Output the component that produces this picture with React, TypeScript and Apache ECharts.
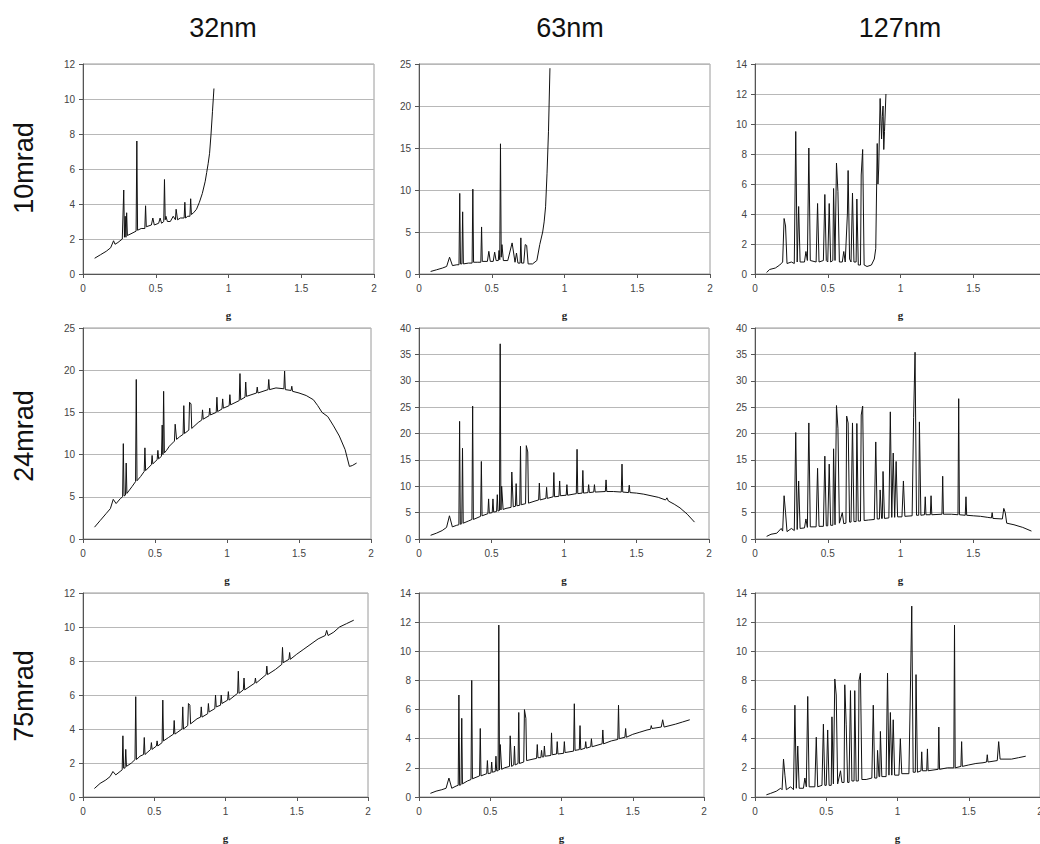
import { useEffect, useRef } from "react";
import * as echarts from "echarts";

const sizes = ["32nm", "63nm", "127nm"];
const angles = ["10mrad", "24mrad", "75mrad"];
const xLabel = "g";
const yMaxes = [12, 25, 14, 25, 40, 40, 12, 14, 14];
const yIntervals = [2, 5, 2, 5, 5, 5, 2, 2, 2];

// 32nm, 10mrad
const p1 = [[0.08,0.9],[0.12,1.1],[0.16,1.3],[0.19,1.5],[0.21,1.9],[0.22,1.7],[0.24,1.8],[0.27,2.0],[0.28,4.8],[0.285,2.1],[0.29,3.3],[0.295,2.1],[0.30,3.5],[0.305,2.2],[0.33,2.3],[0.365,2.45],[0.37,7.6],[0.375,2.5],[0.40,2.6],[0.425,2.6],[0.43,3.9],[0.435,2.7],[0.47,2.8],[0.48,3.2],[0.49,2.8],[0.52,2.9],[0.53,3.2],[0.54,2.9],[0.555,3.0],[0.56,5.4],[0.565,3.1],[0.57,3.3],[0.58,3.0],[0.60,3.0],[0.62,3.3],[0.635,3.1],[0.64,3.7],[0.65,3.1],[0.67,3.2],[0.695,3.2],[0.70,4.1],[0.705,3.2],[0.72,3.3],[0.735,3.3],[0.74,4.3],[0.745,3.4],[0.76,3.5],[0.78,3.7],[0.80,4.1],[0.82,4.6],[0.84,5.3],[0.85,5.8],[0.86,6.3],[0.87,6.9],[0.88,8.0],[0.89,9.3],[0.90,10.6]];
// 63nm, 10mrad
const p2 = [[0.08,0.3],[0.12,0.5],[0.16,0.7],[0.19,0.9],[0.21,2.0],[0.23,1.0],[0.26,1.1],[0.275,1.1],[0.28,9.6],[0.285,1.2],[0.295,1.2],[0.30,7.4],[0.305,1.2],[0.34,1.3],[0.365,1.3],[0.37,10.1],[0.375,1.4],[0.40,1.4],[0.425,1.4],[0.43,5.6],[0.435,1.5],[0.47,1.5],[0.48,2.7],[0.49,1.5],[0.51,1.5],[0.52,2.6],[0.53,1.6],[0.545,1.6],[0.55,2.8],[0.555,1.7],[0.56,15.5],[0.565,2.0],[0.57,3.5],[0.58,1.6],[0.61,1.6],[0.64,3.7],[0.66,1.4],[0.67,2.5],[0.68,1.3],[0.695,1.3],[0.70,4.3],[0.705,1.3],[0.72,1.3],[0.73,3.5],[0.74,3.4],[0.75,1.2],[0.78,1.2],[0.81,1.6],[0.83,3.5],[0.85,5.0],[0.86,6.2],[0.87,8.0],[0.88,12.0],[0.89,17.0],[0.90,24.5]];
// 127nm, 10mrad
const p3 = [[0.08,0.1],[0.10,0.3],[0.14,0.4],[0.17,0.6],[0.19,0.8],[0.20,3.7],[0.21,3.2],[0.22,0.7],[0.25,0.8],[0.27,0.7],[0.28,9.5],[0.29,0.8],[0.30,4.5],[0.31,0.8],[0.34,0.8],[0.35,1.5],[0.36,0.9],[0.37,8.4],[0.38,0.9],[0.42,0.8],[0.43,4.7],[0.44,0.8],[0.47,0.9],[0.48,5.3],[0.49,0.9],[0.50,0.8],[0.51,4.7],[0.52,0.8],[0.535,0.9],[0.54,5.7],[0.55,0.9],[0.56,7.4],[0.57,5.5],[0.58,0.8],[0.60,0.8],[0.61,1.5],[0.62,0.8],[0.635,4.0],[0.64,6.9],[0.65,1.0],[0.66,0.8],[0.67,5.4],[0.68,0.8],[0.695,0.8],[0.70,5.0],[0.71,0.6],[0.725,0.6],[0.73,6.6],[0.74,8.3],[0.75,0.6],[0.77,0.5],[0.80,0.6],[0.82,1.0],[0.83,1.7],[0.84,8.7],[0.845,6.0],[0.85,7.0],[0.86,11.7],[0.87,9.0],[0.875,10.5],[0.88,11.2],[0.885,8.3],[0.89,9.5],[0.90,12.0]];
// 32nm, 24mrad
const p4 = [[0.08,1.4],[0.12,2.2],[0.16,3.0],[0.19,3.6],[0.21,4.7],[0.23,4.2],[0.26,4.8],[0.275,5.0],[0.28,11.3],[0.285,5.1],[0.295,5.2],[0.30,9.0],[0.305,5.4],[0.34,6.2],[0.365,6.8],[0.37,18.9],[0.375,6.9],[0.40,7.4],[0.425,8.0],[0.43,10.8],[0.435,8.1],[0.475,8.8],[0.48,9.9],[0.485,8.9],[0.515,9.4],[0.52,10.5],[0.525,9.5],[0.545,9.8],[0.55,13.5],[0.555,10.0],[0.56,17.5],[0.565,10.2],[0.58,10.5],[0.60,11.0],[0.635,11.6],[0.64,13.6],[0.65,11.8],[0.67,12.1],[0.695,12.4],[0.70,15.8],[0.705,12.5],[0.735,12.9],[0.74,16.2],[0.75,16.0],[0.755,13.1],[0.80,13.8],[0.825,14.1],[0.83,15.3],[0.835,14.2],[0.875,14.6],[0.88,15.5],[0.885,14.7],[0.925,15.0],[0.93,16.8],[0.935,15.1],[0.965,15.4],[0.97,16.6],[0.975,15.5],[1.015,15.8],[1.02,17.1],[1.025,15.9],[1.085,16.4],[1.09,19.6],[1.095,16.5],[1.125,16.8],[1.13,18.6],[1.135,16.9],[1.205,17.3],[1.21,18.0],[1.215,17.3],[1.285,17.7],[1.29,18.9],[1.295,17.7],[1.34,17.9],[1.395,17.8],[1.40,19.9],[1.405,17.7],[1.445,17.6],[1.45,18.1],[1.455,17.5],[1.50,17.3],[1.55,17.0],[1.60,16.5],[1.63,15.8],[1.66,15.0],[1.70,14.5],[1.74,13.4],[1.78,12.2],[1.82,10.6],[1.85,8.6],[1.87,8.7],[1.90,9.0]];
// 63nm, 24mrad
const p5 = [[0.08,0.7],[0.12,1.1],[0.16,1.6],[0.19,2.2],[0.21,4.4],[0.23,2.3],[0.26,2.6],[0.275,2.7],[0.28,22.3],[0.285,2.8],[0.295,2.9],[0.30,17.2],[0.305,3.0],[0.34,3.4],[0.365,3.7],[0.37,25.2],[0.375,3.7],[0.40,4.0],[0.425,4.3],[0.43,14.7],[0.435,4.4],[0.475,4.8],[0.48,7.6],[0.485,4.9],[0.505,5.0],[0.51,7.6],[0.515,5.1],[0.535,5.2],[0.54,8.4],[0.545,5.3],[0.555,5.4],[0.56,37.0],[0.565,5.5],[0.57,10.0],[0.58,5.6],[0.60,5.8],[0.635,6.0],[0.64,12.7],[0.65,6.1],[0.665,6.2],[0.67,10.5],[0.675,6.3],[0.695,6.4],[0.70,17.6],[0.705,6.5],[0.735,6.7],[0.74,17.7],[0.75,16.5],[0.755,6.8],[0.80,7.2],[0.825,7.4],[0.83,10.6],[0.835,7.4],[0.875,7.7],[0.88,9.8],[0.885,7.7],[0.925,8.0],[0.93,12.6],[0.935,8.0],[0.965,8.1],[0.97,11.0],[0.975,8.2],[1.015,8.3],[1.02,10.3],[1.025,8.3],[1.085,8.6],[1.09,17.0],[1.095,8.6],[1.125,8.7],[1.13,13.0],[1.135,8.7],[1.165,8.8],[1.17,10.3],[1.175,8.8],[1.205,8.9],[1.21,10.3],[1.215,8.9],[1.285,9.0],[1.29,11.2],[1.295,9.0],[1.34,9.0],[1.395,8.9],[1.40,14.2],[1.405,8.9],[1.445,8.8],[1.45,10.2],[1.455,8.8],[1.50,8.7],[1.55,8.5],[1.60,8.2],[1.65,7.9],[1.70,7.4],[1.71,7.8],[1.72,7.2],[1.76,6.6],[1.80,5.9],[1.85,4.7],[1.90,3.2]];
// 127nm, 24mrad
const p6 = [[0.08,0.5],[0.11,0.9],[0.15,1.1],[0.18,2.0],[0.19,1.5],[0.20,8.2],[0.21,5.0],[0.22,1.4],[0.25,2.0],[0.27,1.6],[0.28,20.2],[0.29,1.8],[0.30,11.0],[0.31,2.0],[0.34,2.1],[0.35,3.8],[0.36,2.2],[0.37,22.0],[0.38,2.3],[0.42,2.3],[0.43,13.4],[0.44,2.4],[0.47,2.4],[0.48,15.7],[0.49,2.5],[0.50,2.5],[0.51,14.2],[0.52,2.6],[0.535,2.6],[0.54,17.1],[0.55,2.7],[0.56,25.3],[0.57,21.0],[0.58,3.0],[0.60,5.0],[0.61,2.9],[0.625,3.0],[0.63,23.3],[0.64,22.0],[0.65,3.2],[0.66,3.2],[0.67,22.0],[0.68,3.3],[0.695,3.3],[0.70,21.9],[0.71,3.4],[0.725,3.4],[0.73,23.5],[0.74,25.2],[0.75,3.5],[0.78,3.6],[0.82,3.7],[0.83,18.4],[0.84,3.8],[0.855,3.8],[0.86,9.3],[0.87,3.9],[0.875,3.9],[0.88,12.8],[0.89,3.9],[0.92,4.0],[0.93,24.1],[0.94,4.1],[0.95,16.3],[0.96,4.1],[0.97,14.7],[0.98,4.2],[1.01,4.2],[1.02,11.0],[1.03,4.3],[1.08,4.4],[1.09,23.0],[1.10,35.4],[1.11,4.5],[1.125,4.5],[1.13,22.2],[1.14,4.5],[1.165,4.6],[1.17,8.0],[1.175,4.6],[1.205,4.6],[1.21,8.2],[1.215,4.6],[1.285,4.7],[1.29,11.9],[1.295,4.7],[1.35,4.7],[1.395,4.6],[1.40,26.6],[1.405,4.6],[1.445,4.5],[1.45,8.0],[1.455,4.5],[1.50,4.4],[1.55,4.3],[1.60,4.1],[1.625,4.0],[1.63,5.0],[1.635,3.9],[1.70,3.8],[1.71,5.8],[1.72,5.0],[1.73,3.0],[1.78,2.7],[1.84,2.2],[1.90,1.5]];
// 32nm, 75mrad
const p7 = [[0.08,0.5],[0.12,0.8],[0.16,1.0],[0.19,1.2],[0.21,1.5],[0.23,1.3],[0.26,1.5],[0.275,1.6],[0.28,3.6],[0.285,1.7],[0.295,1.7],[0.30,2.8],[0.305,1.8],[0.34,2.0],[0.365,2.2],[0.37,5.9],[0.375,2.2],[0.40,2.4],[0.425,2.5],[0.43,3.5],[0.435,2.5],[0.475,2.8],[0.48,3.2],[0.485,2.8],[0.515,3.0],[0.52,3.3],[0.525,3.0],[0.555,3.2],[0.56,5.7],[0.565,3.3],[0.60,3.5],[0.635,3.7],[0.64,4.5],[0.645,3.7],[0.695,4.0],[0.70,5.3],[0.705,4.0],[0.735,4.2],[0.74,5.5],[0.75,5.4],[0.755,4.3],[0.80,4.6],[0.825,4.7],[0.83,5.3],[0.835,4.7],[0.875,4.9],[0.88,5.5],[0.885,5.0],[0.925,5.2],[0.93,6.0],[0.935,5.3],[0.965,5.4],[0.97,6.0],[0.975,5.5],[1.015,5.7],[1.02,6.2],[1.025,5.7],[1.085,6.1],[1.09,7.4],[1.095,6.1],[1.125,6.3],[1.13,7.0],[1.135,6.3],[1.205,6.7],[1.21,7.0],[1.215,6.7],[1.285,7.2],[1.29,7.7],[1.295,7.2],[1.35,7.5],[1.395,7.8],[1.40,8.8],[1.405,7.9],[1.445,8.1],[1.45,8.5],[1.455,8.1],[1.50,8.4],[1.55,8.7],[1.60,9.0],[1.65,9.3],[1.70,9.5],[1.71,9.8],[1.72,9.5],[1.76,9.7],[1.80,10.0],[1.85,10.2],[1.90,10.4]];
// 63nm, 75mrad
const p8 = [[0.08,0.25],[0.12,0.4],[0.16,0.5],[0.19,0.6],[0.21,1.3],[0.23,0.6],[0.26,0.75],[0.275,0.8],[0.28,7.0],[0.285,0.8],[0.295,0.85],[0.30,5.4],[0.305,0.9],[0.34,1.1],[0.365,1.2],[0.37,8.0],[0.375,1.25],[0.40,1.35],[0.425,1.45],[0.43,4.7],[0.435,1.45],[0.475,1.6],[0.48,2.5],[0.485,1.6],[0.505,1.65],[0.51,2.4],[0.515,1.7],[0.535,1.75],[0.54,2.8],[0.545,1.8],[0.555,1.8],[0.56,11.8],[0.565,1.85],[0.57,3.6],[0.58,1.9],[0.60,2.0],[0.635,2.1],[0.64,4.2],[0.65,2.1],[0.665,2.2],[0.67,3.5],[0.675,2.2],[0.695,2.3],[0.70,5.8],[0.705,2.3],[0.735,2.4],[0.74,6.0],[0.75,5.4],[0.755,2.5],[0.80,2.6],[0.825,2.65],[0.83,3.6],[0.835,2.7],[0.855,2.7],[0.86,3.2],[0.865,2.75],[0.875,2.75],[0.88,3.5],[0.885,2.8],[0.925,2.85],[0.93,4.4],[0.935,2.9],[0.965,2.95],[0.97,3.8],[0.975,2.95],[1.015,3.0],[1.02,3.8],[1.025,3.05],[1.085,3.15],[1.09,6.4],[1.095,3.2],[1.125,3.25],[1.13,4.9],[1.135,3.25],[1.165,3.35],[1.17,3.8],[1.175,3.35],[1.205,3.45],[1.21,4.0],[1.215,3.45],[1.285,3.65],[1.29,4.6],[1.295,3.65],[1.35,3.85],[1.395,3.95],[1.40,6.3],[1.405,4.0],[1.445,4.1],[1.45,4.7],[1.455,4.1],[1.50,4.3],[1.55,4.45],[1.60,4.6],[1.625,4.65],[1.63,4.9],[1.635,4.7],[1.70,4.8],[1.71,5.3],[1.72,4.8],[1.80,5.0],[1.85,5.15],[1.90,5.3]];
// 127nm, 75mrad
const p9 = [[0.08,0.15],[0.11,0.25],[0.15,0.4],[0.18,0.6],[0.19,0.5],[0.20,2.6],[0.21,1.5],[0.22,0.5],[0.25,0.7],[0.27,0.5],[0.28,6.3],[0.29,0.6],[0.30,3.5],[0.31,0.6],[0.34,0.6],[0.35,1.3],[0.36,0.7],[0.37,6.9],[0.38,0.7],[0.42,0.7],[0.43,4.1],[0.44,0.7],[0.47,0.8],[0.48,5.0],[0.49,0.8],[0.50,0.8],[0.51,4.6],[0.52,0.8],[0.535,0.8],[0.54,5.5],[0.55,0.9],[0.56,8.1],[0.57,7.0],[0.58,0.9],[0.60,1.8],[0.61,1.0],[0.625,1.0],[0.63,7.7],[0.64,5.0],[0.65,1.0],[0.66,1.0],[0.67,7.3],[0.68,1.1],[0.695,1.1],[0.70,7.3],[0.71,1.1],[0.725,1.1],[0.73,8.0],[0.74,8.5],[0.75,1.2],[0.78,1.2],[0.82,1.3],[0.83,6.3],[0.84,1.3],[0.855,1.3],[0.86,3.2],[0.87,1.4],[0.875,1.4],[0.88,4.5],[0.89,1.4],[0.92,1.4],[0.93,8.5],[0.94,1.5],[0.95,5.8],[0.96,1.5],[0.97,5.3],[0.98,1.5],[1.01,1.5],[1.02,4.0],[1.03,1.6],[1.08,1.6],[1.09,7.0],[1.10,13.1],[1.11,1.7],[1.125,1.7],[1.13,8.4],[1.14,1.7],[1.165,1.8],[1.17,3.1],[1.175,1.8],[1.205,1.8],[1.21,3.3],[1.215,1.8],[1.285,1.9],[1.29,4.8],[1.295,1.9],[1.35,2.0],[1.395,2.0],[1.40,11.8],[1.405,2.0],[1.445,2.1],[1.45,3.8],[1.455,2.1],[1.50,2.2],[1.55,2.3],[1.60,2.35],[1.625,2.4],[1.63,2.9],[1.635,2.4],[1.70,2.5],[1.71,3.8],[1.72,2.6],[1.80,2.6],[1.85,2.7],[1.90,2.8]];

const panels = [p1, p2, p3, p4, p5, p6, p7, p8, p9];

const colLefts = [83, 419, 755];
const colWidths = [
  [291, 291, 291],
  [288, 290, 291],
  [285, 285, 285],
];
const rowTops = [64, 328, 593];
const rowHeights = [210, 211, 210];
const colCenters = [223, 570, 900];
const rowCenters = [168, 436, 696];

export default function App() {
  const ref = useRef<HTMLDivElement>(null);
  useEffect(() => {
    document.body.style.margin = "0";
    if (!ref.current) return;
    const chart = echarts.init(ref.current, undefined, { renderer: "svg" });
    const grids: any[] = [];
    const xAxes: any[] = [];
    const yAxes: any[] = [];
    const series: any[] = [];
    for (let i = 0; i < 9; i++) {
      const r = Math.floor(i / 3);
      const c = i % 3;
      grids.push({
        left: colLefts[c],
        top: rowTops[r],
        width: colWidths[r][c],
        height: rowHeights[r],
        show: true,
        borderColor: "#9a9a9a",
        borderWidth: 1,
        backgroundColor: "#ffffff",
      });
      xAxes.push({
        type: "value",
        gridIndex: i,
        min: 0,
        max: 2,
        interval: 0.5,
        name: xLabel,
        nameLocation: "middle",
        nameGap: 35,
        nameTextStyle: { fontFamily: "Liberation Serif", fontWeight: "bold", fontSize: 11, color: "#222" },
        axisLine: { onZero: false, lineStyle: { color: "#555", width: 1 } },
        axisTick: { show: true, length: 4, lineStyle: { color: "#555" } },
        axisLabel: { fontFamily: "Liberation Sans", fontSize: 10, color: "#444", margin: 9 },
        splitLine: { show: false },
      });
      yAxes.push({
        type: "value",
        gridIndex: i,
        min: 0,
        max: yMaxes[i],
        interval: yIntervals[i],
        axisLine: { show: true, lineStyle: { color: "#555", width: 1 } },
        axisTick: { show: true, length: 4, lineStyle: { color: "#555" } },
        axisLabel: { fontFamily: "Liberation Sans", fontSize: 10, color: "#444", margin: 8 },
        splitLine: { show: true, lineStyle: { color: "#b8b8b8", width: 1 } },
      });
      series.push({
        type: "line",
        xAxisIndex: i,
        yAxisIndex: i,
        data: panels[i],
        showSymbol: false,
        symbol: "none",
        lineStyle: { color: "#111", width: 1 },
        silent: true,
      });
    }
    const graphic: any[] = [];
    sizes.forEach((s, c) => {
      graphic.push({
        type: "text",
        x: colCenters[c],
        y: 28,
        style: { text: s, fontFamily: "Liberation Sans", fontSize: 27, fill: "#111", textAlign: "center", textVerticalAlign: "middle" },
      });
    });
    angles.forEach((a, r) => {
      graphic.push({
        type: "text",
        x: 24,
        y: rowCenters[r],
        rotation: Math.PI / 2,
        style: { text: a, fontFamily: "Liberation Sans", fontSize: 27, fill: "#111", textAlign: "center", textVerticalAlign: "middle" },
      });
    });
    chart.setOption({
      animation: false,
      backgroundColor: "#ffffff",
      grid: grids,
      xAxis: xAxes,
      yAxis: yAxes,
      series,
      graphic,
    });
    return () => chart.dispose();
  }, []);
  return (
    <div style={{ width: 1040, height: 844, overflow: "hidden", position: "relative" }}>
      <div ref={ref} style={{ width: 1070, height: 844 }} />
    </div>
  );
}
